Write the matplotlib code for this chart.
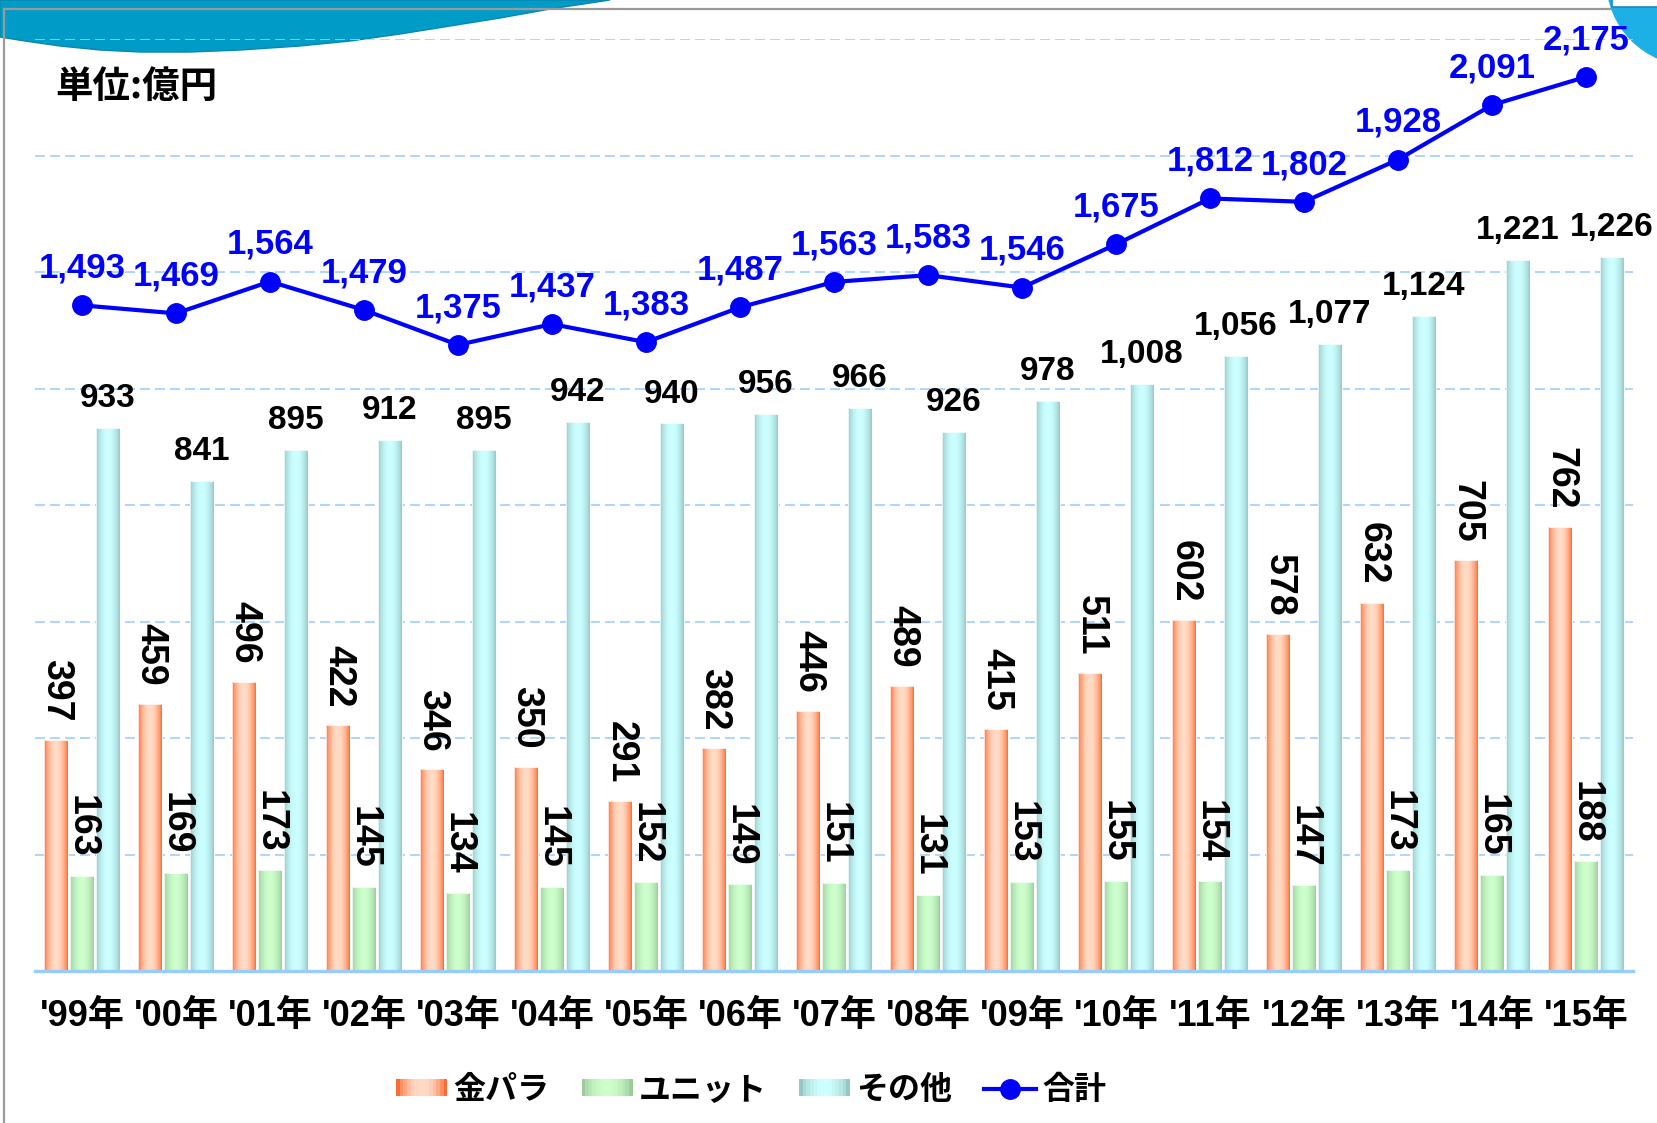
import numpy as np
import matplotlib
matplotlib.use("Agg")
import matplotlib.pyplot as plt
from matplotlib.patches import Rectangle, Polygon, Circle
from matplotlib.lines import Line2D
from matplotlib.legend_handler import HandlerTuple
from matplotlib.transforms import Affine2D
from matplotlib.colors import to_rgb

# ---------------- data ----------------
years = ["'99年", "'00年", "'01年", "'02年", "'03年", "'04年", "'05年", "'06年", "'07年",
         "'08年", "'09年", "'10年", "'11年", "'12年", "'13年", "'14年", "'15年"]
kinpara = [397, 459, 496, 422, 346, 350, 291, 382, 446, 489, 415, 511, 602, 578, 632, 705, 762]
unit = [163, 169, 173, 145, 134, 145, 152, 149, 151, 131, 153, 155, 154, 147, 173, 165, 188]
other = [933, 841, 895, 912, 895, 942, 940, 956, 966, 926, 978, 1008, 1056, 1077, 1124, 1221, 1226]
total = [1493, 1469, 1564, 1479, 1375, 1437, 1383, 1487, 1563, 1583, 1546, 1675, 1812, 1802, 1928, 2091, 2175]
series_names = ["金パラ", "ユニット", "その他", "合計"]
unit_label = "単位:億円"

# ---------------- style ----------------
W, H = 1657, 1123
CJK = "Noto Sans CJK JP"
NARROW = ["Liberation Sans Narrow", "Liberation Sans", CJK]
SANS = ["Liberation Sans", CJK]
grads = {
    "kin": ("#FF6A30", "#FFDCC6"),
    "unit": ("#9CCC9C", "#CCFFCC"),
    "other": ("#96C6C6", "#CCFFFF"),
}
BLUE = "#0000FF"
GRID = "#A0CEFF"

fig = plt.figure(figsize=(W / 100, H / 100), dpi=100)
fig.patch.set_facecolor("white")
PX = Affine2D().scale(1 / W, -1 / H).translate(0, 1) + fig.transFigure

# decorations (frame, swoosh, corner circle)
sw = [(0, 0), (0, 37), (25, 41), (60, 46), (100, 50), (140, 52), (190, 52), (240, 50),
      (300, 46), (350, 41), (400, 34), (450, 26), (500, 18), (550, 9), (610, 0)]
fig.add_artist(Polygon(sw, closed=True, transform=PX, facecolor="#009CC8",
                       edgecolor="#0A86AE", lw=1.0, zorder=-2))
fig.add_artist(Line2D([4, W], [9, 9], transform=PX, color="#9A9A9A", lw=1.6, zorder=-1))
fig.add_artist(Line2D([4, 4], [9, H], transform=PX, color="#9A9A9A", lw=1.6, zorder=-1))
fig.add_artist(Circle((1692, -20), 86, transform=PX, facecolor="#1DB0E6", edgecolor="none", zorder=-0.5))
fig.add_artist(Rectangle((1612, -4), 60, 11, transform=PX, facecolor="white",
                         edgecolor="#1C86C8", lw=1.2, zorder=-0.4))

# ---------------- axes ----------------
left, right, top, bottom = 35, 1633, 39, 971
ax = fig.add_axes([left / W, 1 - bottom / H, (right - left) / W, (bottom - top) / H])
ax.set_facecolor("none")
x = np.arange(len(years))
bw = 0.255
off = 0.273


def gradient(dark, light, n=64):
    d, l = np.array(to_rgb(dark)), np.array(to_rgb(light))
    t = np.linspace(0, 1, n)
    v = np.sin(np.pi * t) ** 0.75
    return (d + (l - d) * v[:, None])[None, :, :]


def grad_bars(xpos, vals, key):
    bars = ax.bar(xpos, vals, width=bw, facecolor="none", edgecolor=(1, 1, 1, 0.8),
                  lw=0.7, zorder=3)
    img = gradient(*grads[key])
    for b in bars:
        x0 = b.get_x()
        im = ax.imshow(img, extent=[x0, x0 + b.get_width(), 0, b.get_height()],
                       aspect="auto", interpolation="bilinear", zorder=2)
        im.set_clip_path(b)
    return bars


b_kin = grad_bars(x - off, kinpara, "kin")
b_unit = grad_bars(x, unit, "unit")
b_oth = grad_bars(x + off, other, "other")

ax.set_xlim(-0.5, len(years) - 0.5)
ax.set_ylim(0, 1600)
ax.set_yticks(np.arange(200, 1601, 200))
ax.yaxis.grid(True, color=GRID, lw=1.2, dashes=(6, 3))
ax.set_axisbelow(True)
for s in ["left", "right", "top"]:
    ax.spines[s].set_visible(False)
ax.spines["bottom"].set_color("#9ACBFF")
ax.spines["bottom"].set_linewidth(2.4)
ax.spines["bottom"].set_zorder(4)
ax.set_xticks(x)
ax.set_xticklabels(years, fontsize=26, family=NARROW, fontweight="bold")
ax.tick_params(axis="x", length=0, pad=20)

# bar labels
for b, v in zip(b_kin, kinpara):
    ax.annotate(f"{v}", (b.get_x() + b.get_width() / 2, v), xytext=(0, 13),
                textcoords="offset points", rotation=-90, ha="center", va="bottom",
                fontsize=27, family=NARROW, fontweight="bold", color="black", zorder=5)
for b, v in zip(b_unit, unit):
    ax.annotate(f"{v}", (b.get_x() + b.get_width() / 2, v), xytext=(0, 13),
                textcoords="offset points", rotation=-90, ha="center", va="bottom",
                fontsize=27, family=NARROW, fontweight="bold", color="black", zorder=5)
for b, v in zip(b_oth, other):
    ax.annotate(f"{v:,}", (b.get_x() + b.get_width() / 2, v), xytext=(0, 15),
                textcoords="offset points", ha="center", va="baseline",
                fontsize=24, family=SANS, fontweight="bold", color="black", zorder=5)

# total line on secondary axis
ax2 = ax.twinx()
ax2.set_ylim(-494, 2288)
ax2.set_axis_off()
ax2.plot(x, total, color=BLUE, lw=3.0, marker="o", markersize=14, zorder=5)
for xi, v in zip(x, total):
    ax2.annotate(f"{v:,}", (xi, v), xytext=(0, 20), textcoords="offset points",
                 ha="center", va="baseline", fontsize=25, family=SANS,
                 fontweight="bold", color=BLUE, zorder=6)
# twinx re-enables left ticks on the primary axes; hide them afterwards
ax.tick_params(axis="y", left=False, right=False, labelleft=False, labelright=False)

# unit label
fig.text(55 / W, 1 - 86 / H, unit_label, ha="left", va="center", fontsize=27,
         fontweight="bold", family=[CJK, "DejaVu Sans"])

# legend
def grad_handle(key, n=14):
    cols = gradient(*grads[key], n=n)[0]
    return tuple(Rectangle((0, 0), 1, 1, facecolor=c, lw=0, antialiased=False) for c in cols)


handles = [grad_handle("kin"), grad_handle("unit"), grad_handle("other"),
           Line2D([], [], color=BLUE, lw=3.0, marker="o", markersize=14)]
fig.legend(handles, series_names, loc="center", bbox_to_anchor=(751 / W, 1 - 1090 / H),
           ncol=4, frameon=False, prop={"family": [CJK, "DejaVu Sans"], "weight": "bold", "size": 23},
           handlelength=1.6, handleheight=0.42, handletextpad=0.2, columnspacing=1.0,
           handler_map={tuple: HandlerTuple(ndivide=None, pad=0)})

fig.savefig("out.png", dpi=100)
